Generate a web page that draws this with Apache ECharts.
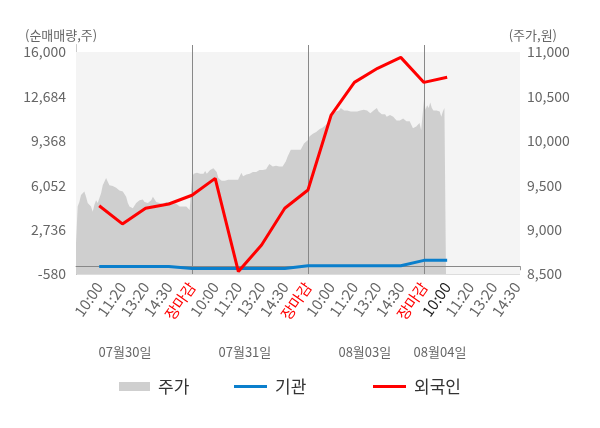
<!DOCTYPE html>
<html>
<head>
<meta charset="UTF-8">
<title>순매매량 / 주가</title>
<script src="https://cdn.jsdelivr.net/npm/echarts@6/dist/echarts.min.js"></script>
<style>
  html, body { margin: 0; padding: 0; background: #fff; }
  #main { width: 600px; height: 428px; }
</style>
</head>
<body>
<div id="main"></div>
<script>
// x축 라벨 (1 ~ 19 위치)
var timeLabels = ['10:00', '11:20', '13:20', '14:30', '장마감',
                  '10:00', '11:20', '13:20', '14:30', '장마감',
                  '10:00', '11:20', '13:20', '14:30', '장마감',
                  '10:00', '11:20', '13:20', '14:30'];
var dayLabels = ['07월30일', '07월31일', '08월03일', '08월04일'];
var dayLabelPos = [2.11, 7.28, 12.45, 15.69];
var dayBreaks = [5, 10, 15];

// 축 눈금
var leftMin = -580, leftMax = 16000, leftStep = 3316;
var rightMin = 8500, rightMax = 11000, rightStep = 500;

// 주가 (일별 분봉)
var price0730 = [8850, 9260, 9310, 9390, 9410, 9430, 9370, 9300, 9280, 9260, 9200, 9280, 9330, 9300, 9280,
  9410, 9500, 9540, 9580, 9540, 9500, 9500, 9490, 9480, 9470, 9450, 9440, 9430, 9430, 9420, 9370, 9300,
  9260, 9260, 9240, 9260, 9300, 9310, 9330, 9350, 9340, 9310, 9300, 9300, 9310, 9330, 9370, 9350, 9310,
  9300, 9300, 9280, 9290, 9300, 9310, 9330, 9310, 9300, 9300, 9310, 9290, 9300, 9260, 9280, 9260, 9270,
  9260, 9250, 9220];
var price0731 = [9580, 9630, 9620, 9640, 9620, 9630, 9650, 9630, 9660, 9630, 9630, 9670, 9690, 9690, 9680,
  9650, 9580, 9560, 9550, 9540, 9550, 9550, 9560, 9550, 9560, 9550, 9560, 9570, 9560, 9600, 9640, 9600,
  9620, 9620, 9630, 9630, 9640, 9650, 9640, 9650, 9650, 9670, 9680, 9670, 9680, 9680, 9710, 9740, 9720,
  9710, 9710, 9720, 9720, 9710, 9720, 9710, 9730, 9770, 9820, 9860, 9900, 9920, 9900, 9880, 9900, 9880,
  9900, 9920, 9970, 9990];
var price0803 = [10010, 10050, 10070, 10080, 10090, 10100, 10120, 10130, 10140, 10150, 10170, 10180, 10200,
  10220, 10250, 10290, 10310, 10330, 10350, 10340, 10370, 10350, 10340, 10330, 10340, 10330, 10330, 10320,
  10330, 10320, 10330, 10350, 10340, 10330, 10350, 10330, 10340, 10330, 10310, 10330, 10340, 10350, 10370,
  10330, 10310, 10300, 10290, 10300, 10270, 10290, 10290, 10270, 10270, 10250, 10230, 10240, 10230, 10250,
  10250, 10230, 10220, 10200, 10220, 10200, 10140, 10130, 10160, 10140, 10200, 10120, 10100];
var price0804 = [10460, 10350, 10400, 10370, 10430, 10370, 10340, 10330, 10340, 10330, 10330, 10270, 10330,
  10370, 10390];

// 순매매량 (x = 1 ~ 16)
var institution = [-20, -20, -20, -20, -170, -170, -170, -170, -170, 40, 40, 40, 40, 40, 440, 450];
var foreigner = [4520, 3160, 4330, 4650, 5300, 6560, -400, 1590, 4330, 5690, 11290, 13730, 14780, 15600, 13730, 14110];

var xMax = 19.14;
var font = 'Noto Sans CJK KR';

// 축 위로 7px 연장
var leftTop = leftMax + (leftMax - leftMin) * 7 / 222;
var rightTop = rightMax + (rightMax - rightMin) * 7 / 222;

function dayPoints(arr, start, span) {
  return arr.map(function (v, i) { return [start + span * i / (arr.length - 1), v]; });
}
var priceData = [].concat(
  dayPoints(price0730, 0, 4.9),
  dayPoints(price0731, 5, 4.9),
  dayPoints(price0803, 10, 4.95),
  dayPoints(price0804, 15, 0.95)
);
var instData = institution.map(function (v, i) { return [i + 1, v]; });
var forData = foreigner.map(function (v, i) { return [i + 1, v]; });

var timeCustom = timeLabels.map(function (l, i) { return i + 1; });
var legendText = { fontSize: 17, color: '#333', fontFamily: font, padding: [0, 0, 0, 3] };

var chart = echarts.init(document.getElementById('main'));
chart.setOption({
  animation: false,
  textStyle: { fontFamily: font },
  title: [
    { text: '(순매매량,주)', left: 20, top: 24, textStyle: { fontSize: 13, fontWeight: 'normal', color: '#666', fontFamily: font } },
    { text: '(주가,원)', right: 38, top: 24, textStyle: { fontSize: 13, fontWeight: 'normal', color: '#666', fontFamily: font } }
  ],
  grid: { left: 76, right: 80, top: 45, bottom: 154 },
  legend: [
    { data: ['주가'], left: 114, top: 373, icon: 'rect', itemWidth: 31, itemHeight: 9, textStyle: legendText },
    { data: ['기관'], left: 229, top: 373, icon: 'rect', itemWidth: 33, itemHeight: 3, textStyle: legendText },
    { data: ['외국인'], left: 368, top: 373, icon: 'rect', itemWidth: 33, itemHeight: 3, textStyle: legendText }
  ],
  xAxis: [
    {
      type: 'value', min: 0, max: xMax, position: 'bottom',
      axisLine: { show: true, lineStyle: { color: '#999' } },
      axisTick: { show: true, length: 4, lineStyle: { color: '#999' }, customValues: [0].concat(dayBreaks, [xMax]) },
      axisLabel: { show: false },
      splitLine: { show: false }
    },
    {
      type: 'value', min: 0, max: xMax, interval: 1, position: 'bottom',
      axisLine: { show: false }, axisTick: { show: false }, splitLine: { show: false },
      axisLabel: {
        customValues: timeCustom, rotate: 55, margin: 10, fontSize: 15, fontFamily: font,
        formatter: function (v) {
          var i = Math.round(v) - 1;
          if (Math.abs(v - Math.round(v)) > 0.01 || i < 0 || i >= timeLabels.length) return '';
          var t = timeLabels[i];
          if (t === '장마감') return '{r|' + t + '}';
          if (i === 15) return '{k|' + t + '}';
          return '{n|' + t + '}';
        },
        rich: {
          n: { color: '#666', fontSize: 15, fontFamily: font },
          r: { color: '#ff0000', fontSize: 15, fontFamily: font },
          k: { color: '#222', fontSize: 15, fontFamily: font }
        }
      }
    },
    {
      type: 'value', min: 0, max: xMax, position: 'bottom', offset: 64,
      axisLine: { show: false }, axisTick: { show: false }, splitLine: { show: false },
      axisLabel: {
        customValues: dayLabelPos, fontSize: 13, color: '#666', fontFamily: font, margin: 8,
        formatter: function (v) {
          for (var i = 0; i < dayLabelPos.length; i++) {
            if (Math.abs(dayLabelPos[i] - v) < 0.01) return dayLabels[i];
          }
          return '';
        }
      }
    }
  ],
  yAxis: [
    {
      type: 'value', position: 'left', min: leftMin, max: leftTop, interval: leftStep,
      axisLine: { show: true, lineStyle: { color: '#999' } },
      axisTick: { show: false },
      axisLabel: {
        fontSize: 14, color: '#666', fontFamily: font, margin: 10,
        formatter: function (v) { return v > leftMax + 1 ? '' : echarts.format.addCommas(v); }
      },
      splitLine: { show: true, showMaxLine: false,
        lineStyle: { color: ['#ddd', '#ddd', '#ddd', '#ddd', '#ddd', 'rgba(0,0,0,0)'] } }
    },
    {
      type: 'value', position: 'right', min: rightMin, max: rightTop, interval: rightStep,
      axisLine: { show: true, lineStyle: { color: '#ccc' } },
      axisTick: { show: false },
      axisLabel: {
        fontSize: 14, color: '#666', fontFamily: font, margin: 7,
        formatter: function (v) { return v > rightMax + 1 ? '' : echarts.format.addCommas(v); }
      },
      splitLine: { show: false }
    }
  ],
  series: [
    {
      name: '주가', type: 'line', xAxisIndex: 0, yAxisIndex: 1, data: priceData,
      symbol: 'none', z: 2, color: '#cfcfcf',
      lineStyle: { width: 0 },
      areaStyle: { color: '#cfcfcf', opacity: 1 },
      itemStyle: { color: '#cfcfcf' },
      markArea: {
        silent: true, itemStyle: { color: '#f4f4f4' },
        data: [[{ coord: [0, rightMin] }, { coord: [xMax, rightMax] }]]
      }
    },
    {
      name: '기관', type: 'line', xAxisIndex: 0, yAxisIndex: 0, data: instData,
      symbol: 'none', z: 4, color: '#0b7fcc',
      lineStyle: { width: 3, color: '#0b7fcc' },
      itemStyle: { color: '#0b7fcc' },
      markLine: {
        silent: true, z: 3, symbol: 'none', label: { show: false },
        lineStyle: { color: '#888', width: 1, type: 'solid' },
        data: [{ yAxis: 0 }].concat(dayBreaks.map(function (d) { return { xAxis: d }; }))
      }
    },
    {
      name: '외국인', type: 'line', xAxisIndex: 0, yAxisIndex: 0, data: forData,
      symbol: 'none', z: 5, color: '#ff0000',
      lineStyle: { width: 3, color: '#ff0000' },
      itemStyle: { color: '#ff0000' }
    }
  ]
});
</script>
</body>
</html>
